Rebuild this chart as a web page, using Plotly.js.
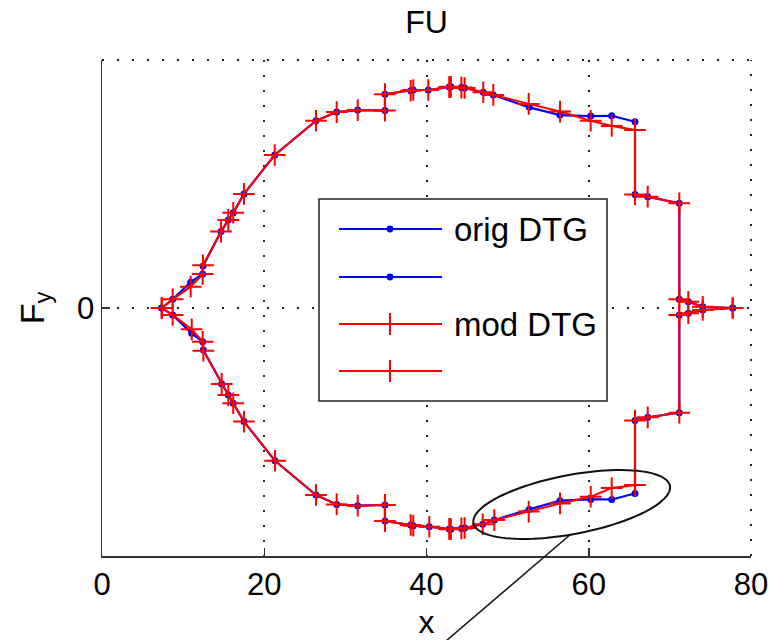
<!DOCTYPE html>
<html>
<head>
<meta charset="utf-8">
<script src="https://cdn.plot.ly/plotly-3.0.1.min.js"></script>
<style>html,body{margin:0;padding:0;background:#fff;}#chart{width:771px;height:640px;}</style>
</head>
<body>
<div id="chart"></div>
<script>
// ---- data ----
const x_upper_orig = [7.36, 8.71, 10.93, 12.41, 12.45, 14.67, 15.57, 16.18, 17.50, 21.29, 26.38, 28.93, 31.52, 34.88, 34.88, 38.05, 38.37, 40.22, 42.8, 43.0, 44.3, 44.7, 47.0, 48.23, 52.67, 56.46, 60.24, 62.83, 65.70, 65.70, 67.27, 71.16, 71.16, 72.27, 74.05, 77.74];
const fy_upper_orig = [0, 0.035, 0.104, 0.137, 0.169, 0.308, 0.355, 0.384, 0.46, 0.617, 0.755, 0.79, 0.798, 0.796, 0.862, 0.876, 0.879, 0.879, 0.891, 0.892, 0.889, 0.887, 0.870, 0.859, 0.809, 0.778, 0.774, 0.775, 0.751, 0.458, 0.449, 0.422, 0.035, 0.025, 0.005, 0];

const x_lower_orig = [7.36, 8.71, 11.06, 12.41, 12.49, 14.75, 15.57, 16.18, 17.50, 21.33, 26.38, 28.93, 31.52, 34.88, 34.88, 38.05, 38.37, 40.34, 42.8, 43.0, 44.3, 44.7, 46.93, 48.36, 52.67, 56.46, 60.24, 62.83, 65.70, 65.70, 67.27, 71.16, 71.16, 72.27, 74.05, 77.74];
const fy_lower_orig = [0, -0.028, -0.102, -0.136, -0.169, -0.306, -0.351, -0.384, -0.458, -0.616, -0.754, -0.792, -0.797, -0.794, -0.859, -0.875, -0.878, -0.882, -0.891, -0.892, -0.889, -0.887, -0.872, -0.855, -0.812, -0.777, -0.772, -0.772, -0.748, -0.454, -0.441, -0.422, -0.028, -0.021, -0.008, 0];

const x_upper_mod = [7.36, 8.71, 10.93, 12.41, 12.45, 14.67, 15.57, 16.18, 17.50, 21.29, 26.38, 28.93, 31.52, 34.88, 34.88, 38.05, 38.37, 40.22, 42.8, 43.0, 44.3, 44.7, 47.0, 48.23, 52.6, 56.46, 60.24, 62.83, 65.70, 65.70, 67.27, 71.16, 71.16, 72.27, 74.05, 77.74];
const fy_upper_mod = [0, 0.035, 0.086, 0.137, 0.172, 0.308, 0.355, 0.384, 0.46, 0.617, 0.755, 0.79, 0.798, 0.796, 0.862, 0.876, 0.879, 0.879, 0.891, 0.892, 0.889, 0.887, 0.870, 0.859, 0.823, 0.792, 0.755, 0.734, 0.718, 0.458, 0.449, 0.422, 0.035, 0.025, 0.005, 0];

const x_lower_mod = [7.36, 8.71, 11.06, 12.41, 12.49, 14.75, 15.57, 16.18, 17.50, 21.33, 26.38, 28.93, 31.52, 34.88, 34.88, 38.05, 38.37, 40.34, 42.8, 43.0, 44.3, 44.7, 46.93, 48.36, 52.6, 56.46, 60.24, 62.83, 65.70, 65.70, 67.27, 71.16, 71.16, 72.27, 74.05, 77.74];
const fy_lower_mod = [0, -0.028, -0.086, -0.136, -0.172, -0.306, -0.351, -0.384, -0.458, -0.616, -0.754, -0.792, -0.797, -0.794, -0.859, -0.875, -0.878, -0.882, -0.891, -0.892, -0.889, -0.887, -0.872, -0.855, -0.821, -0.788, -0.761, -0.726, -0.714, -0.454, -0.441, -0.422, -0.028, -0.021, -0.008, 0];

const x_tick_vals = [0, 20, 40, 60, 80];
const x_tick_text = ['0', '20', '40', '60', '80'];
const y_tick_vals = [0];
const y_tick_text = ['0'];
const legend_names = ['orig DTG', '', 'mod DTG', ''];

// ---- layout geometry (pixels) ----
const W = 771, H = 640;
const L = 102, R = 20, T = 60, B = 84;
const PW = W - L - R, PH = H - T - B;
const BOTTOM = H - B;
const FONT = 'Liberation Sans, Arial, Helvetica, sans-serif';
function px(p) { return (p - L) / PW; }
function py(p) { return (BOTTOM - p) / PH; }

const BLUE = '#0000ff', RED = '#ff0000', GRID = '#262626', AX = '#333333';
const gridDash = '2px,13px';

function origTrace(x, y, name) {
  return { x: x, y: y, name: name, type: 'scatter', mode: 'lines+markers',
    line: { color: BLUE, width: 2.2 }, marker: { color: BLUE, size: 7, symbol: 'circle' },
    showlegend: false, hoverinfo: 'x+y' };
}
function modTrace(x, y, name) {
  return { x: x, y: y, name: name, type: 'scatter', mode: 'lines+markers',
    line: { color: RED, width: 2 },
    marker: { symbol: 'cross-thin', size: 15.5, color: RED, line: { color: RED, width: 2 } },
    showlegend: false, hoverinfo: 'x+y' };
}

const data = [
  origTrace(x_upper_orig, fy_upper_orig, legend_names[0]),
  origTrace(x_lower_orig, fy_lower_orig, legend_names[1]),
  modTrace(x_upper_mod, fy_upper_mod, legend_names[2]),
  modTrace(x_lower_mod, fy_lower_mod, legend_names[3])
];

// ---- shapes: box edges, legend box, ellipse + pointer ----
const shapes = [];
// dotted top and right edges (grid at axis limits)
shapes.push({ type: 'line', xref: 'paper', yref: 'paper', x0: 0, x1: 1, y0: 1, y1: 1,
  line: { color: GRID, width: 2, dash: gridDash }, layer: 'below' });
shapes.push({ type: 'line', xref: 'paper', yref: 'paper', x0: 1, x1: 1, y0: 0, y1: 1,
  line: { color: GRID, width: 2, dash: gridDash }, layer: 'below' });

// legend (manual, MATLAB style)
const LG = { x0: 319, y0: 199, x1: 607, y1: 401, lineX0: 339, lineX1: 442, markX: 390, textX: 452,
  rows: [229, 277, 324, 371] };
shapes.push({ type: 'rect', xref: 'paper', yref: 'paper', x0: px(LG.x0), x1: px(LG.x1), y0: py(LG.y1), y1: py(LG.y0),
  line: { color: '#222', width: 1.5 }, fillcolor: '#ffffff', layer: 'above' });
const rowColors = [BLUE, BLUE, RED, RED];
LG.rows.forEach(function (ry, i) {
  shapes.push({ type: 'line', xref: 'paper', yref: 'paper', x0: px(LG.lineX0), x1: px(LG.lineX1), y0: py(ry), y1: py(ry),
    line: { color: rowColors[i], width: 2 }, layer: 'above' });
  if (i < 2) {
    shapes.push({ type: 'circle', xref: 'paper', yref: 'paper', x0: px(LG.markX - 3.4), x1: px(LG.markX + 3.4),
      y0: py(ry + 3.4), y1: py(ry - 3.4), fillcolor: BLUE, line: { color: BLUE, width: 0 }, layer: 'above' });
  } else {
    shapes.push({ type: 'line', xref: 'paper', yref: 'paper', x0: px(LG.markX), x1: px(LG.markX), y0: py(ry - 11), y1: py(ry + 11),
      line: { color: RED, width: 2 }, layer: 'above' });
  }
});

// ellipse annotation
const ELL = { cx: 571.7, cy: 504.5, a: 100, b: 29.5, angleDeg: 10.75 };
(function () {
  const th = ELL.angleDeg * Math.PI / 180;
  let d = '';
  const N = 96;
  for (let k = 0; k <= N; k++) {
    const t = 2 * Math.PI * k / N;
    const X = ELL.cx + ELL.a * Math.cos(t) * Math.cos(th) - ELL.b * Math.sin(t) * Math.sin(th);
    const Y = ELL.cy - (ELL.a * Math.cos(t) * Math.sin(th) + ELL.b * Math.sin(t) * Math.cos(th));
    d += (k === 0 ? 'M' : 'L') + px(X).toFixed(5) + ',' + py(Y).toFixed(5);
  }
  d += 'Z';
  shapes.push({ type: 'path', xref: 'paper', yref: 'paper', path: d, line: { color: '#111', width: 2 }, layer: 'above' });
})();
// pointer line from ellipse to below the axis
shapes.push({ type: 'line', xref: 'paper', yref: 'paper', x0: px(571), y0: py(534), x1: px(446), y1: py(641),
  line: { color: '#111', width: 1.5 }, layer: 'above' });

const annotations = [
  { xref: 'paper', yref: 'paper', x: px(LG.textX), y: py(LG.rows[0]), xanchor: 'left', yanchor: 'middle',
    text: legend_names[0], showarrow: false, font: { family: FONT, size: 33, color: '#000' } },
  { xref: 'paper', yref: 'paper', x: px(LG.textX), y: py(LG.rows[2]), xanchor: 'left', yanchor: 'middle',
    text: legend_names[2], showarrow: false, font: { family: FONT, size: 33, color: '#000' } }
];

const layout = {
  width: W, height: H,
  margin: { l: L, r: R, t: T, b: B, pad: 0 },
  paper_bgcolor: '#ffffff', plot_bgcolor: '#ffffff',
  font: { family: FONT, size: 31, color: '#000' },
  showlegend: false,
  title: { text: 'FU', font: { family: FONT, size: 32, color: '#000' }, x: 0.5, xref: 'paper', xanchor: 'center',
    y: 1 - 22 / H, yref: 'container', yanchor: 'middle' },
  xaxis: {
    range: [0, 80], tickmode: 'array', tickvals: x_tick_vals, ticktext: x_tick_text,
    ticks: 'inside', ticklen: 8, tickwidth: 1.5, tickcolor: AX,
    showline: true, linecolor: AX, linewidth: 1.5, mirror: false,
    showgrid: true, gridcolor: GRID, gridwidth: 2, griddash: gridDash, zeroline: false,
    tickfont: { family: FONT, size: 31, color: '#000' },
    title: { text: 'x', font: { family: FONT, size: 32, color: '#000' }, standoff: 10 },
    fixedrange: true
  },
  yaxis: {
    range: [-1, 1], tickmode: 'array', tickvals: y_tick_vals, ticktext: y_tick_text,
    ticks: 'inside', ticklen: 8, tickwidth: 1.5, tickcolor: AX,
    showline: true, linecolor: AX, linewidth: 1.5, mirror: false,
    showgrid: true, gridcolor: GRID, gridwidth: 2, griddash: gridDash, zeroline: false,
    tickfont: { family: FONT, size: 31, color: '#000' },
    title: { text: 'F<sub>y</sub>', font: { family: FONT, size: 34, color: '#000' }, standoff: 22 },
    fixedrange: true
  },
  shapes: shapes,
  annotations: annotations
};

Plotly.newPlot('chart', data, layout, { displayModeBar: false, staticPlot: true });
</script>
</body>
</html>
